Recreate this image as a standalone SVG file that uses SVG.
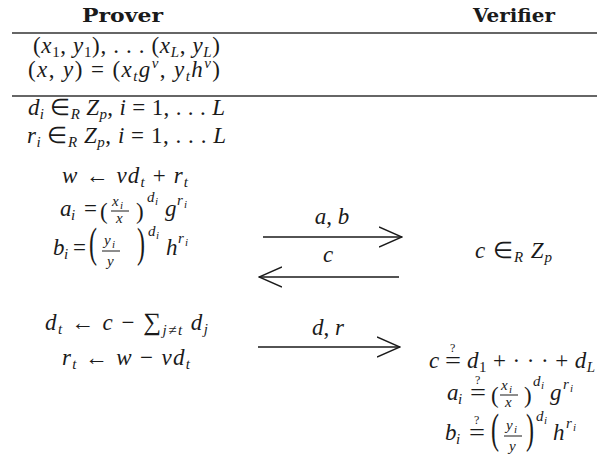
<svg xmlns="http://www.w3.org/2000/svg" width="597" height="461" viewBox="0 0 597 461">
<style>
.m{font-family:"Liberation Serif",serif;font-size:23px;fill:#1a1a1a}
.i{font-style:italic}
.s{font-size:15px}
.ss{font-size:11px}
.q{font-size:12px}
.h{font-family:"DejaVu Serif",serif;font-weight:bold;font-size:18px;fill:#1a1a1a}
.rule{stroke:#333;stroke-width:1.5}
.bar{stroke:#1a1a1a;stroke-width:1}
.arr{stroke:#1a1a1a;stroke-width:1.4;fill:none;marker-end:url(#head)}
</style>
<defs>
<marker id="head" viewBox="0 0 24 22" refX="23" refY="11" markerWidth="24" markerHeight="22" markerUnits="userSpaceOnUse" orient="auto">
<path d="M0,1 L23,11 L0,21" fill="none" stroke="#1a1a1a" stroke-width="1.4"/>
</marker>
</defs>
<rect width="597" height="461" fill="#fff"/>

<g id="header-prover">
<text class="h" x="82" y="22" textLength="81" lengthAdjust="spacingAndGlyphs">Prover</text>
</g>
<g id="header-verifier">
<text class="h" x="473" y="22" textLength="82" lengthAdjust="spacingAndGlyphs">Verifier</text>
</g>
<g id="rules">
<line class="rule" x1="12" y1="33" x2="597" y2="33"/>
<line class="rule" x1="12" y1="96" x2="597" y2="96"/>
</g>

<g id="prover-setup">
<text class="m" x="33" y="53" textLength="187" lengthAdjust="spacing">(<tspan class="i">x</tspan><tspan class="s" dy="4">1</tspan><tspan dy="-4">, </tspan><tspan class="i">y</tspan><tspan class="s" dy="4">1</tspan><tspan dy="-4">), . . . (</tspan><tspan class="i">x</tspan><tspan class="s i" dy="4">L</tspan><tspan dy="-4">, </tspan><tspan class="i">y</tspan><tspan class="s i" dy="4">L</tspan><tspan dy="-4">)</tspan></text>
<text class="m" x="28" y="77" textLength="192" lengthAdjust="spacing">(<tspan class="i">x</tspan>, <tspan class="i">y</tspan>) = (<tspan class="i">x</tspan><tspan class="s i" dy="4">t</tspan><tspan class="i" dy="-4">g</tspan><tspan class="s i" dy="-9">v</tspan><tspan dy="9">, </tspan><tspan class="i">y</tspan><tspan class="s i" dy="4">t</tspan><tspan class="i" dy="-4">h</tspan><tspan class="s i" dy="-9">v</tspan><tspan dy="9">)</tspan></text>
</g>

<g id="prover-commit">
<text class="m" x="28" y="115" textLength="197" lengthAdjust="spacing"><tspan class="i">d</tspan><tspan class="s i" dy="4">i</tspan><tspan dy="-4"> ∈</tspan><tspan class="s i" dy="4">R</tspan><tspan class="i" dy="-4"> Z</tspan><tspan class="s i" dy="4">p</tspan><tspan dy="-4">, </tspan><tspan class="i">i</tspan> = 1, . . . <tspan class="i">L</tspan></text>
<text class="m" x="27" y="143" textLength="199" lengthAdjust="spacing"><tspan class="i">r</tspan><tspan class="s i" dy="4">i</tspan><tspan dy="-4"> ∈</tspan><tspan class="s i" dy="4">R</tspan><tspan class="i" dy="-4"> Z</tspan><tspan class="s i" dy="4">p</tspan><tspan dy="-4">, </tspan><tspan class="i">i</tspan> = 1, . . . <tspan class="i">L</tspan></text>
<text class="m" x="62" y="183" textLength="126" lengthAdjust="spacing"><tspan class="i">w</tspan> ← <tspan class="i">v</tspan><tspan class="i">d</tspan><tspan class="s i" dy="4">t</tspan><tspan dy="-4"> + </tspan><tspan class="i">r</tspan><tspan class="s i" dy="4">t</tspan></text>
<!-- a_i row -->
<text class="m i" x="60" y="216">a</text><text class="m s i" x="71" y="220">i</text>
<text class="m" x="84" y="216">=</text>
<text class="m" x="100" y="219">(</text>
<text class="m s i" x="112" y="206">x</text><text class="m ss i" x="120" y="209">i</text>
<line class="bar" x1="111" y1="211" x2="129" y2="211"/>
<text class="m s i" x="116" y="223">x</text>
<text class="m" x="136" y="219">)</text>
<text class="m s i" x="147" y="202">d</text><text class="m ss i" x="155" y="205">i</text>
<text class="m i" x="165" y="216">g</text>
<text class="m s i" x="177" y="205">r</text><text class="m ss i" x="184" y="208">i</text>
<!-- b_i row -->
<text class="m i" x="53" y="255">b</text><text class="m s i" x="64" y="259">i</text>
<text class="m" x="73" y="255">=</text>
<text class="m" style="font-size:24px" transform="translate(89,257) scale(1,1.75)">(</text>
<text class="m s i" x="104" y="245">y</text><text class="m ss i" x="112" y="248">i</text>
<line class="bar" x1="102" y1="251" x2="120" y2="251"/>
<text class="m s i" x="107" y="266">y</text>
<text class="m" style="font-size:24px" transform="translate(137,257) scale(1,1.75)">)</text>
<text class="m s i" x="148" y="236">d</text><text class="m ss i" x="156" y="239">i</text>
<text class="m i" x="166" y="255">h</text>
<text class="m s i" x="178" y="243">r</text><text class="m ss i" x="185" y="246">i</text>
</g>

<g id="verifier-challenge">
<text class="m" x="475" y="258" textLength="77" lengthAdjust="spacing"><tspan class="i">c</tspan> ∈<tspan class="s i" dy="4">R</tspan><tspan class="i" dy="-4"> Z</tspan><tspan class="s i" dy="4">p</tspan></text>
</g>

<g id="prover-response">
<text class="m" x="45" y="330" textLength="163" lengthAdjust="spacing"><tspan class="i">d</tspan><tspan class="s i" dy="4">t</tspan><tspan dy="-4"> ← </tspan><tspan class="i">c</tspan> − <tspan style="font-size:25px">∑</tspan><tspan class="s i" dy="5">j</tspan><tspan class="s">≠</tspan><tspan class="s i">t</tspan><tspan class="i" dy="-5"> d</tspan><tspan class="s i" dy="4">j</tspan></text>
<text class="m" x="62" y="365" textLength="128" lengthAdjust="spacing"><tspan class="i">r</tspan><tspan class="s i" dy="4">t</tspan><tspan dy="-4"> ← </tspan><tspan class="i">w</tspan> − <tspan class="i">v</tspan><tspan class="i">d</tspan><tspan class="s i" dy="4">t</tspan></text>
</g>

<g id="verifier-check">
<text class="m i" x="429" y="368">c</text>
<text class="m" x="445" y="368" textLength="16" lengthAdjust="spacingAndGlyphs">=</text><text class="m q" x="450" y="352">?</text>
<text class="m" x="467" y="368" textLength="128" lengthAdjust="spacing"><tspan class="i">d</tspan><tspan class="s" dy="4">1</tspan><tspan dy="-4"> + · · · + </tspan><tspan class="i">d</tspan><tspan class="s i" dy="4">L</tspan></text>
<!-- a_i check -->
<text class="m i" x="447" y="400">a</text><text class="m s i" x="458" y="404">i</text>
<text class="m" x="470" y="400" textLength="16" lengthAdjust="spacingAndGlyphs">=</text><text class="m q" x="475" y="384">?</text>
<text class="m" x="491" y="403">(</text>
<text class="m s i" x="501" y="390">x</text><text class="m ss i" x="509" y="393">i</text>
<line class="bar" x1="500" y1="395" x2="518" y2="395"/>
<text class="m s i" x="505" y="407">x</text>
<text class="m" x="524" y="403">)</text>
<text class="m s i" x="533" y="386">d</text><text class="m ss i" x="541" y="389">i</text>
<text class="m i" x="550" y="400">g</text>
<text class="m s i" x="563" y="389">r</text><text class="m ss i" x="570" y="392">i</text>
<!-- b_i check -->
<text class="m i" x="445" y="440">b</text><text class="m s i" x="456" y="444">i</text>
<text class="m" x="469" y="440" textLength="16" lengthAdjust="spacingAndGlyphs">=</text><text class="m q" x="474" y="424">?</text>
<text class="m" style="font-size:24px" transform="translate(491,443) scale(1,1.75)">(</text>
<text class="m s i" x="506" y="430">y</text><text class="m ss i" x="514" y="433">i</text>
<line class="bar" x1="504" y1="436" x2="522" y2="436"/>
<text class="m s i" x="509" y="451">y</text>
<text class="m" style="font-size:24px" transform="translate(526,443) scale(1,1.75)">)</text>
<text class="m s i" x="536" y="421">d</text><text class="m ss i" x="544" y="424">i</text>
<text class="m i" x="553" y="440">h</text>
<text class="m s i" x="566" y="428">r</text><text class="m ss i" x="573" y="431">i</text>
</g>

<g id="connectors">
<line class="arr" x1="263" y1="237" x2="402" y2="237"/>
<text class="m" x="332" y="224" text-anchor="middle"><tspan class="i">a</tspan>, <tspan class="i">b</tspan></text>
<line class="arr" x1="399" y1="277" x2="259" y2="277"/>
<text class="m i" x="328" y="262" text-anchor="middle">c</text>
<line class="arr" x1="258" y1="347" x2="400" y2="347"/>
<text class="m" x="328" y="335" text-anchor="middle"><tspan class="i">d</tspan>, <tspan class="i">r</tspan></text>
</g>
</svg>
